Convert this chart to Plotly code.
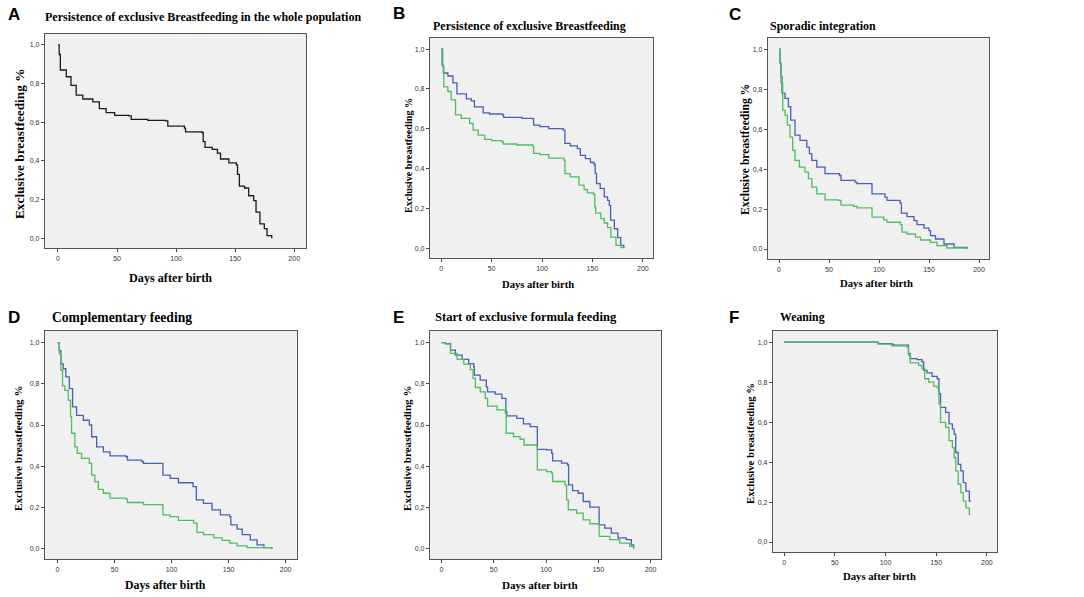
import plotly.graph_objects as go

W, H = 1084, 597

# ---------------- data (days, survival proportion) ----------------
a_days = [0, 1, 2, 7, 11, 15.4, 21, 29.5, 35, 40.7, 48, 60, 62, 76, 91, 93, 107, 108, 122, 123, 124.5,
          130.6, 135, 137.6, 144.7, 151, 152, 153.6, 158, 161.5, 165.7, 167.7, 171, 174.7, 177, 181]
a_surv = [1.0, 0.95, 0.87, 0.835, 0.79, 0.74, 0.72, 0.705, 0.67, 0.65, 0.635, 0.633, 0.615, 0.61, 0.607, 0.58,
          0.57, 0.55, 0.547, 0.50, 0.47, 0.46, 0.44, 0.41, 0.39, 0.38, 0.33, 0.27, 0.26, 0.22, 0.195, 0.135,
          0.075, 0.05, 0.014, 0.0]

b_blue_days = [0, 1, 2.3, 6.7, 11.7, 15.7, 25, 30, 33, 41.7, 48, 61, 62, 80, 91, 91.7, 98, 106.7, 121, 122.7,
               128, 135, 138, 143, 148, 151.7, 152.7, 154, 157.7, 161.7, 165, 166.7, 168, 171.7, 175, 178, 181]
b_blue_surv = [1.0, 0.92, 0.88, 0.865, 0.83, 0.775, 0.75, 0.74, 0.71, 0.68, 0.674, 0.669, 0.657, 0.652, 0.649,
               0.618, 0.61, 0.60, 0.593, 0.526, 0.514, 0.50, 0.466, 0.45, 0.43, 0.42, 0.375, 0.324, 0.30, 0.257,
               0.24, 0.215, 0.14, 0.097, 0.052, 0.013, 0.0]
b_green_days = [0, 1.7, 2.7, 6.7, 10, 14.3, 20, 28.3, 31.7, 36.7, 43.3, 50, 60, 61.7, 75, 91, 91.7, 98, 106.7,
                121.7, 122.7, 128, 136.7, 141.7, 145, 151, 152.3, 153.3, 158.3, 161.7, 165, 168.3, 173.3, 178.3, 181]
b_green_surv = [1.0, 0.91, 0.81, 0.787, 0.745, 0.67, 0.652, 0.627, 0.593, 0.568, 0.546, 0.54, 0.534, 0.523,
                0.518, 0.51, 0.476, 0.47, 0.452, 0.442, 0.374, 0.358, 0.316, 0.294, 0.277, 0.27, 0.207, 0.176,
                0.148, 0.126, 0.103, 0.055, 0.013, 0.002, 0.0]

c_blue_days = [0, 1, 2, 3, 6, 9.4, 11.7, 16, 21, 27.8, 30.4, 32.8, 37.8, 46, 60.5, 62, 76, 78, 92, 93, 106, 108,
               121, 122.4, 128, 135, 138, 145, 150, 151.5, 156.5, 165, 175, 188]
c_blue_surv = [1.0, 0.93, 0.863, 0.78, 0.754, 0.712, 0.645, 0.57, 0.544, 0.51, 0.477, 0.444, 0.41, 0.377, 0.368,
               0.343, 0.335, 0.327, 0.327, 0.276, 0.26, 0.243, 0.23, 0.18, 0.162, 0.142, 0.122, 0.105, 0.092,
               0.067, 0.05, 0.025, 0.008, 0.0]
c_green_days = [0, 1, 2, 3.7, 6, 8.4, 11, 13.7, 16, 20.4, 26, 29.4, 32.8, 37.8, 46, 59.5, 62, 74.6, 78, 92, 93,
                104.7, 108, 121.4, 123, 128, 136.5, 141.5, 151.5, 158, 168, 188]
c_green_surv = [1.0, 0.93, 0.83, 0.695, 0.67, 0.62, 0.56, 0.494, 0.444, 0.41, 0.385, 0.352, 0.31, 0.276, 0.246,
                0.243, 0.22, 0.213, 0.206, 0.206, 0.16, 0.146, 0.134, 0.122, 0.084, 0.075, 0.059, 0.045, 0.033,
                0.017, 0.005, 0.0]

d_blue_days = [0, 1.5, 2.9, 5, 7.3, 10.3, 13.2, 16.7, 22.6, 27.9, 29.9, 34.3, 40.2, 46, 60, 61.3, 73.9, 75.4,
               91.5, 92.4, 98.8, 106, 118.8, 121.7, 128, 135.5, 142.8, 151, 152, 157.5, 162, 169, 175, 181, 188]
d_blue_surv = [1.0, 0.961, 0.897, 0.873, 0.833, 0.776, 0.688, 0.647, 0.623, 0.6, 0.543, 0.494, 0.47, 0.45, 0.446,
               0.43, 0.422, 0.414, 0.414, 0.357, 0.341, 0.32, 0.301, 0.237, 0.22, 0.188, 0.164, 0.156, 0.116,
               0.095, 0.068, 0.043, 0.019, 0.005, 0.0]
d_green_days = [0, 1.5, 2.9, 4.4, 6.4, 9.4, 11.4, 12.3, 15.2, 17.3, 21.1, 27.9, 29.9, 32.8, 35.8, 40.2, 46, 60,
                61.3, 75.4, 91.5, 92.4, 98.8, 106, 119.4, 122.3, 128, 137, 144.3, 151, 157.5, 166.3, 188]
d_green_surv = [1.0, 0.945, 0.865, 0.79, 0.768, 0.72, 0.64, 0.56, 0.494, 0.462, 0.438, 0.414, 0.357, 0.325,
                0.288, 0.269, 0.245, 0.24, 0.224, 0.214, 0.214, 0.164, 0.156, 0.137, 0.124, 0.079, 0.068, 0.052,
                0.04, 0.027, 0.014, 0.005, 0.0]

e_blue_days = [0, 3.8, 8.6, 13.3, 19.7, 26, 30.8, 31.4, 37, 42.9, 44.1, 51.4, 57.8, 61, 61.6, 62.5, 72, 78.4,
               84.8, 91.1, 91.7, 100.6, 105.4, 106.3, 114.9, 120.6, 121.6, 125.4, 130.8, 135.6, 141.9, 149.8,
               150.8, 156.2, 162.5, 168.9, 176.8, 181.6, 183.8]
e_blue_surv = [1.0, 0.995, 0.963, 0.939, 0.918, 0.898, 0.882, 0.842, 0.818, 0.785, 0.761, 0.75, 0.729, 0.729,
               0.665, 0.644, 0.632, 0.605, 0.592, 0.592, 0.482, 0.479, 0.463, 0.426, 0.415, 0.406, 0.31, 0.282,
               0.269, 0.229, 0.202, 0.202, 0.116, 0.1, 0.076, 0.052, 0.044, 0.019, 0.0]
e_green_days = [0, 3.8, 8.6, 14.9, 21.3, 27.6, 30.2, 32.4, 37.1, 41.9, 44.1, 53, 61, 61.9, 68.9, 75.2, 79, 91.1,
                91.7, 100.6, 105.4, 106.3, 118.1, 119.7, 121.3, 129.2, 135.6, 141.9, 149.8, 150.8, 161, 170.5,
                180, 183.8]
e_green_surv = [1.0, 0.992, 0.947, 0.918, 0.895, 0.869, 0.826, 0.782, 0.761, 0.729, 0.692, 0.673, 0.656, 0.56,
                0.544, 0.531, 0.503, 0.498, 0.382, 0.374, 0.366, 0.326, 0.31, 0.237, 0.189, 0.173, 0.14, 0.121,
                0.121, 0.06, 0.044, 0.027, 0.011, 0.0]

f_blue_days = [0, 91, 92.7, 106, 107.7, 121, 122.7, 124.3, 131, 136, 137.7, 141, 146, 151, 152.7, 154.3, 159.3,
               162.7, 166, 167.7, 169.3, 171.7, 174.3, 176.7, 179.3, 182.7, 183.3]
f_blue_surv = [1.0, 1.0, 0.993, 0.99, 0.985, 0.985, 0.943, 0.918, 0.913, 0.901, 0.859, 0.846, 0.829, 0.817,
               0.742, 0.674, 0.649, 0.591, 0.565, 0.54, 0.448, 0.389, 0.356, 0.297, 0.255, 0.205, 0.2]
f_green_days = [0, 91, 92.7, 106, 121, 122.7, 124.3, 132.7, 136, 138.7, 142.7, 147.7, 151, 152.7, 154.3, 159.3,
                162.7, 166, 167.7, 169.3, 171.7, 174.3, 176.7, 179.3, 182.7]
f_green_surv = [1.0, 1.0, 0.99, 0.982, 0.977, 0.935, 0.896, 0.884, 0.867, 0.817, 0.8, 0.779, 0.772, 0.691, 0.599,
                0.574, 0.507, 0.473, 0.423, 0.356, 0.289, 0.247, 0.205, 0.171, 0.134]

panel_letters = ["A", "B", "C", "D", "E", "F"]
panel_titles = ["Persistence of exclusive Breastfeeding in the whole population",
                "Persistence of exclusive Breastfeeding",
                "Sporadic integration",
                "Complementary feeding",
                "Start of exclusive formula feeding",
                "Weaning"]
x_title = "Days after birth"
y_title = "Exclusive breastfeeding %"
x_tickvals = [0, 50, 100, 150, 200]
x_ticktext = ["0", "50", "100", "150", "200"]
y_tickvals = [0.0, 0.2, 0.4, 0.6, 0.8, 1.0]
y_ticktext = ["0,0", "0,2", "0,4", "0,6", "0,8", "1,0"]

BLUE = "#4a5fb5"
GREEN = "#4cbf5c"
BLACK = "#1a1a1a"

# ---------------- layout geometry (pixels) ----------------
# plot boxes: left, right, top, bottom
boxes = [(45, 306, 34, 248), (430, 653, 38, 258), (768, 989, 38, 259),
         (45, 297, 331, 559), (430, 661, 331, 559), (773, 997, 331, 552)]
letter_pos = [(6, 15, 17), (391, 14, 17), (727, 15, 17), (6, 317, 17), (391, 317, 17), (727, 317, 17)]
title_pos = [(43, 17, 12), (431, 26, 12), (768, 26, 12), (50, 317, 13.6), (433, 317, 12.6), (778, 317, 11.8)]
ylab_pos = [(20, 144, 13.3), (408, 156, 10.2), (745, 150, 11.6), (18, 448, 11.1), (407, 448, 11.1), (750, 444, 10.7)]
xlab_pos = [(170, 278, 12.2), (538, 284, 10.6), (876, 283, 10.7), (165, 585, 11.8), (540, 585, 11.1), (879, 576, 10.7)]

def px(x):
    return x / W

def py(y):
    return 1 - y / H

series = [
    [(a_days, a_surv, BLACK)],
    [(b_blue_days, b_blue_surv, BLUE), (b_green_days, b_green_surv, GREEN)],
    [(c_blue_days, c_blue_surv, BLUE), (c_green_days, c_green_surv, GREEN)],
    [(d_blue_days, d_blue_surv, BLUE), (d_green_days, d_green_surv, GREEN)],
    [(e_blue_days, e_blue_surv, BLUE), (e_green_days, e_green_surv, GREEN)],
    [(f_blue_days, f_blue_surv, BLUE), (f_green_days, f_green_surv, GREEN)],
]

fig = go.Figure()
layout = dict(width=W, height=H, margin=dict(l=0, r=0, t=0, b=0),
              paper_bgcolor="white", plot_bgcolor="#f0f0f0", showlegend=False)
annotations = []

for i in range(6):
    n = "" if i == 0 else str(i + 1)
    l, r, t, b = boxes[i]
    for days, surv, col in series[i]:
        fig.add_trace(go.Scatter(x=days, y=surv, mode="lines", line=dict(color=col, width=1.3, shape="hv"),
                                 xaxis="x" + n, yaxis="y" + n, hoverinfo="skip"))
    axis_common = dict(showgrid=False, zeroline=False, showline=True, linecolor="#555555", linewidth=1.2,
                       mirror=True, ticks="outside", ticklen=3, tickwidth=1, tickcolor="#444444",
                       tickfont=dict(family="Liberation Sans, Arial", size=7, color="#333333"))
    layout["xaxis" + n] = dict(domain=[px(l), px(r)], range=[-11, 210], anchor="y" + n,
                               tickvals=x_tickvals, ticktext=x_ticktext, **axis_common)
    layout["yaxis" + n] = dict(domain=[py(b), py(t)], range=[-0.05, 1.056], anchor="x" + n,
                               tickvals=y_tickvals, ticktext=y_ticktext, **axis_common)
    lx, ly, ls = letter_pos[i]
    annotations.append(dict(text="<b>" + panel_letters[i] + "</b>", x=px(lx), y=py(ly), xref="paper",
                            yref="paper", xanchor="left", yanchor="middle", showarrow=False,
                            font=dict(family="Liberation Sans, Arial", size=ls, color="black")))
    tx, ty, ts = title_pos[i]
    annotations.append(dict(text="<b>" + panel_titles[i] + "</b>", x=px(tx), y=py(ty), xref="paper",
                            yref="paper", xanchor="left", yanchor="middle", showarrow=False,
                            font=dict(family="Liberation Serif, Times New Roman", size=ts, color="black")))
    yx, yy, ys = ylab_pos[i]
    annotations.append(dict(text="<b>" + y_title + "</b>", x=px(yx), y=py(yy), xref="paper", yref="paper",
                            xanchor="center", yanchor="middle", textangle=-90, showarrow=False,
                            font=dict(family="Liberation Serif, Times New Roman", size=ys, color="black")))
    xx, xy, xs = xlab_pos[i]
    annotations.append(dict(text="<b>" + x_title + "</b>", x=px(xx), y=py(xy), xref="paper", yref="paper",
                            xanchor="center", yanchor="middle", showarrow=False,
                            font=dict(family="Liberation Serif, Times New Roman", size=xs, color="black")))

layout["annotations"] = annotations
fig.update_layout(**layout)
fig.write_html("out.html", config={"displayModeBar": False},
               post_script="document.body.style.margin='0';document.body.style.overflow='hidden';")
